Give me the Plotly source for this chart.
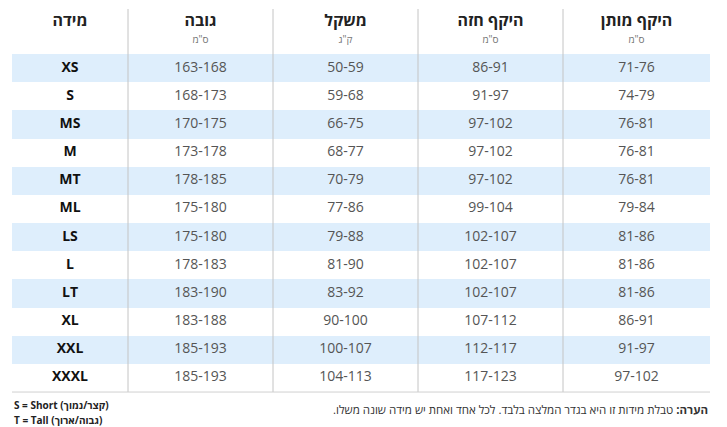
import plotly.graph_objects as go

# --- data ---
SIZES   = ["XS", "S", "MS", "M", "MT", "ML", "LS", "L", "LT", "XL", "XXL", "XXXL"]
HEIGHT  = ["163-168", "168-173", "170-175", "173-178", "178-185", "175-180",
           "175-180", "178-183", "183-190", "183-188", "185-193", "185-193"]
WEIGHT  = ["50-59", "59-68", "66-75", "68-77", "70-79", "77-86",
           "79-88", "81-90", "83-92", "90-100", "100-107", "104-113"]
CHEST   = ["86-91", "91-97", "97-102", "97-102", "97-102", "99-104",
           "102-107", "102-107", "102-107", "107-112", "112-117", "117-123"]
WAIST   = ["71-76", "74-79", "76-81", "76-81", "76-81", "79-84",
           "81-86", "81-86", "81-86", "86-91", "91-97", "97-102"]
HEADERS = ["מידה", "גובה", "משקל", "היקף חזה", "היקף מותן"]
UNITS   = ["", 'ס"מ', 'ק"ג', 'ס"מ', 'ס"מ']

# --- layout constants (pixels of the 727x427 page) ---
PAGE_W, PAGE_H = 727, 427
OFF = 8                      # default body margin of the html page
W, H = PAGE_W - OFF, PAGE_H - OFF
X0 = 12
COL_W = [116, 145, 145, 145, 147]
HEAD_H = 54
ROW_H = 28.17
SHADE = "#deeefc"
FONT = "Open Sans, Noto Sans, DejaVu Sans"

X1 = X0 + sum(COL_W)
edges = [X0]
for w in COL_W:
    edges.append(edges[-1] + w)
centers = [(a + b) / 2 for a, b in zip(edges[:-1], edges[1:])]
rows = list(range(len(SIZES)))

def py(pix):
    # page pixel row -> y value in row units (row 0 centred on first body row)
    return -0.5 + (pix - HEAD_H) / ROW_H

fig = go.Figure()

# shaded rows
shaded = [r for r in rows if r % 2 == 0]
fig.add_trace(go.Bar(y=shaded, x=[X1 - X0] * len(shaded), base=X0, orientation="h",
                     width=1, marker=dict(color=SHADE, line=dict(width=0)),
                     hoverinfo="skip", showlegend=False))

# cell texts
columns = [[f"<b>{s}</b>" for s in SIZES], HEIGHT, WEIGHT, CHEST, WAIST]
for i, vals in enumerate(columns):
    fig.add_trace(go.Scatter(
        x=[centers[i]] * len(vals), y=rows, text=vals, mode="text",
        textposition="middle center", hoverinfo="skip", showlegend=False,
        textfont=dict(family=FONT, size=14,
                      color="#111" if i == 0 else "#555")))

# header
fig.add_trace(go.Scatter(
    x=centers, y=[py(22)] * len(HEADERS), text=[f"<b>{h}</b>" for h in HEADERS],
    mode="text", textposition="middle center", hoverinfo="skip", showlegend=False,
    textfont=dict(family=FONT, size=16, color="#222")))
fig.add_trace(go.Scatter(
    x=centers, y=[py(40)] * len(UNITS), text=UNITS,
    mode="text", textposition="middle center", hoverinfo="skip", showlegend=False,
    textfont=dict(family=FONT, size=10, color="#777")))

# separators and bottom rule
table_bottom = HEAD_H + ROW_H * len(SIZES)
shapes = []
for e in edges[1:-1]:
    shapes.append(dict(type="line", xref="x", yref="y", x0=e, x1=e,
                       y0=py(9), y1=py(table_bottom), layer="above",
                       line=dict(color="#c4c4c4", width=1)))
shapes.append(dict(type="line", xref="x", yref="y", x0=X0, x1=X1,
                   y0=py(table_bottom), y1=py(table_bottom),
                   line=dict(color="#d0d0d0", width=1)))

annotations = [
    dict(text="<b>S = Short (קצר/נמוך)</b>", x=X0, y=py(405), xref="x", yref="y",
         xanchor="left", yanchor="middle", showarrow=False,
         font=dict(family=FONT, size=10, color="#222")),
    dict(text="<b>T = Tall (גבוה/ארוך)</b>", x=X0, y=py(420), xref="x", yref="y",
         xanchor="left", yanchor="middle", showarrow=False,
         font=dict(family=FONT, size=10, color="#222")),
    dict(text="<b>הערה:</b> טבלת מידות זו היא בגדר המלצה בלבד. לכל אחד ואחת יש מידה שונה משלו.\u200f",
         x=X1, y=py(409), xref="x", yref="y",
         xanchor="right", yanchor="middle", showarrow=False,
         font=dict(family=FONT, size=11.5, color="#333")),
]

fig.update_layout(
    width=W, height=H, margin=dict(l=0, r=0, t=0, b=0),
    paper_bgcolor="white", plot_bgcolor="white", bargap=0,
    xaxis=dict(range=[OFF, OFF + W], visible=False, fixedrange=True),
    yaxis=dict(range=[py(OFF + H), py(OFF)], visible=False, fixedrange=True),
    shapes=shapes, annotations=annotations)
fig.write_html("out.html")
